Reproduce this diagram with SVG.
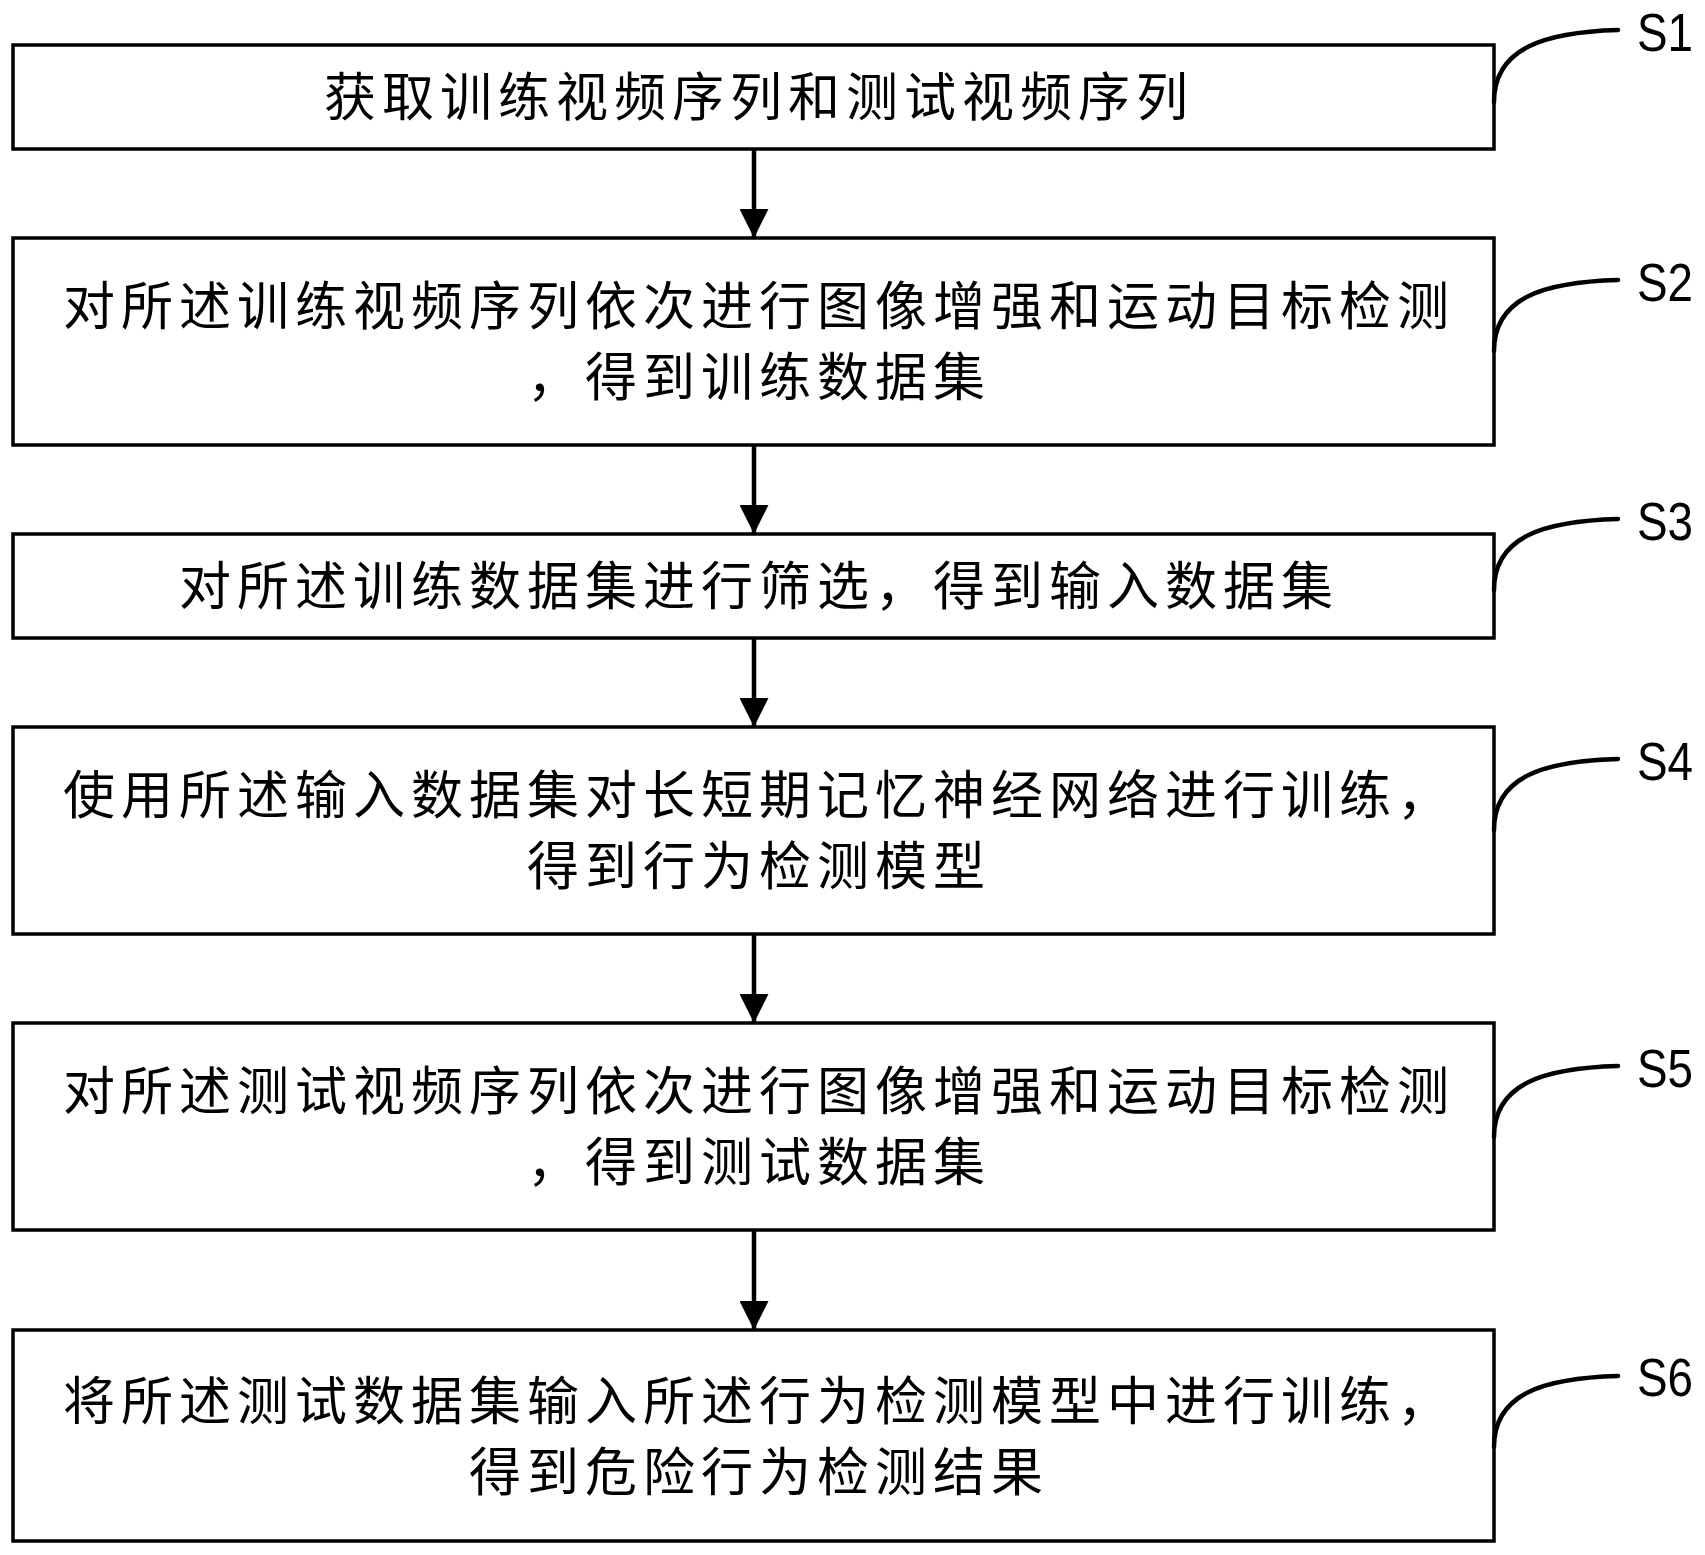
<svg xmlns="http://www.w3.org/2000/svg" width="1705" height="1555" viewBox="0 0 1705 1555">
<style>
.box{fill:#fff;stroke:#000;stroke-width:3.5}
.t{font-family:"Noto Sans CJK SC","Noto Sans CJK JP",sans-serif;font-size:52px;letter-spacing:6px;text-anchor:middle;fill:#000}
.lbl{font-family:"Liberation Sans",Arial,sans-serif;font-size:53px;fill:#000}
.lead{fill:none;stroke:#000;stroke-width:4.5;stroke-linecap:round}
.arr{stroke:#000;stroke-width:4.5}
</style>
<defs>
<marker id="ah" markerWidth="29" markerHeight="29" viewBox="0 0 29 29" refX="29" refY="14.5" orient="auto" markerUnits="userSpaceOnUse">
<path d="M0,0 L29,14.5 L0,29 Z" fill="#000"/>
</marker>
</defs>
<rect width="1705" height="1555" fill="#fff"/>
<g id="S1">
<rect class="box" x="13" y="45" width="1481" height="104"/>
<text class="t" x="759" y="116">获取训练视频序列和测试视频序列</text>
<path class="lead" d="M1494,102 C1494,48 1545,32 1618,30"/>
<text class="lbl" x="1637" y="51" textLength="56" lengthAdjust="spacingAndGlyphs">S1</text>
</g>
<g id="S2">
<rect class="box" x="13" y="238" width="1481" height="207"/>
<text class="t" x="759" y="325">对所述训练视频序列依次进行图像增强和运动目标检测</text>
<text class="t" x="759" y="396">，得到训练数据集</text>
<path class="lead" d="M1494,351 C1494,297 1545,282 1618,280"/>
<text class="lbl" x="1637" y="301" textLength="56" lengthAdjust="spacingAndGlyphs">S2</text>
</g>
<g id="S3">
<rect class="box" x="13" y="534" width="1481" height="104"/>
<text class="t" x="759" y="605">对所述训练数据集进行筛选，得到输入数据集</text>
<path class="lead" d="M1494,590 C1494,536 1545,521 1618,519"/>
<text class="lbl" x="1637" y="540" textLength="56" lengthAdjust="spacingAndGlyphs">S3</text>
</g>
<g id="S4">
<rect class="box" x="13" y="727" width="1481" height="207"/>
<text class="t" x="759" y="814">使用所述输入数据集对长短期记忆神经网络进行训练，</text>
<text class="t" x="759" y="885">得到行为检测模型</text>
<path class="lead" d="M1494,830 C1494,776 1545,761 1618,759"/>
<text class="lbl" x="1637" y="780" textLength="56" lengthAdjust="spacingAndGlyphs">S4</text>
</g>
<g id="S5">
<rect class="box" x="13" y="1023" width="1481" height="207"/>
<text class="t" x="759" y="1110">对所述测试视频序列依次进行图像增强和运动目标检测</text>
<text class="t" x="759" y="1181">，得到测试数据集</text>
<path class="lead" d="M1494,1137 C1494,1083 1545,1068 1618,1066"/>
<text class="lbl" x="1637" y="1087" textLength="56" lengthAdjust="spacingAndGlyphs">S5</text>
</g>
<g id="S6">
<rect class="box" x="13" y="1330" width="1481" height="211"/>
<text class="t" x="759" y="1420">将所述测试数据集输入所述行为检测模型中进行训练，</text>
<text class="t" x="759" y="1491">得到危险行为检测结果</text>
<path class="lead" d="M1494,1447 C1494,1393 1545,1378 1618,1376"/>
<text class="lbl" x="1637" y="1396" textLength="56" lengthAdjust="spacingAndGlyphs">S6</text>
</g>
<g id="connectors">
<line class="arr" x1="754" y1="149" x2="754" y2="238" marker-end="url(#ah)"/>
<line class="arr" x1="754" y1="445" x2="754" y2="534" marker-end="url(#ah)"/>
<line class="arr" x1="754" y1="638" x2="754" y2="727" marker-end="url(#ah)"/>
<line class="arr" x1="754" y1="934" x2="754" y2="1023" marker-end="url(#ah)"/>
<line class="arr" x1="754" y1="1230" x2="754" y2="1330" marker-end="url(#ah)"/>
</g>
</svg>
